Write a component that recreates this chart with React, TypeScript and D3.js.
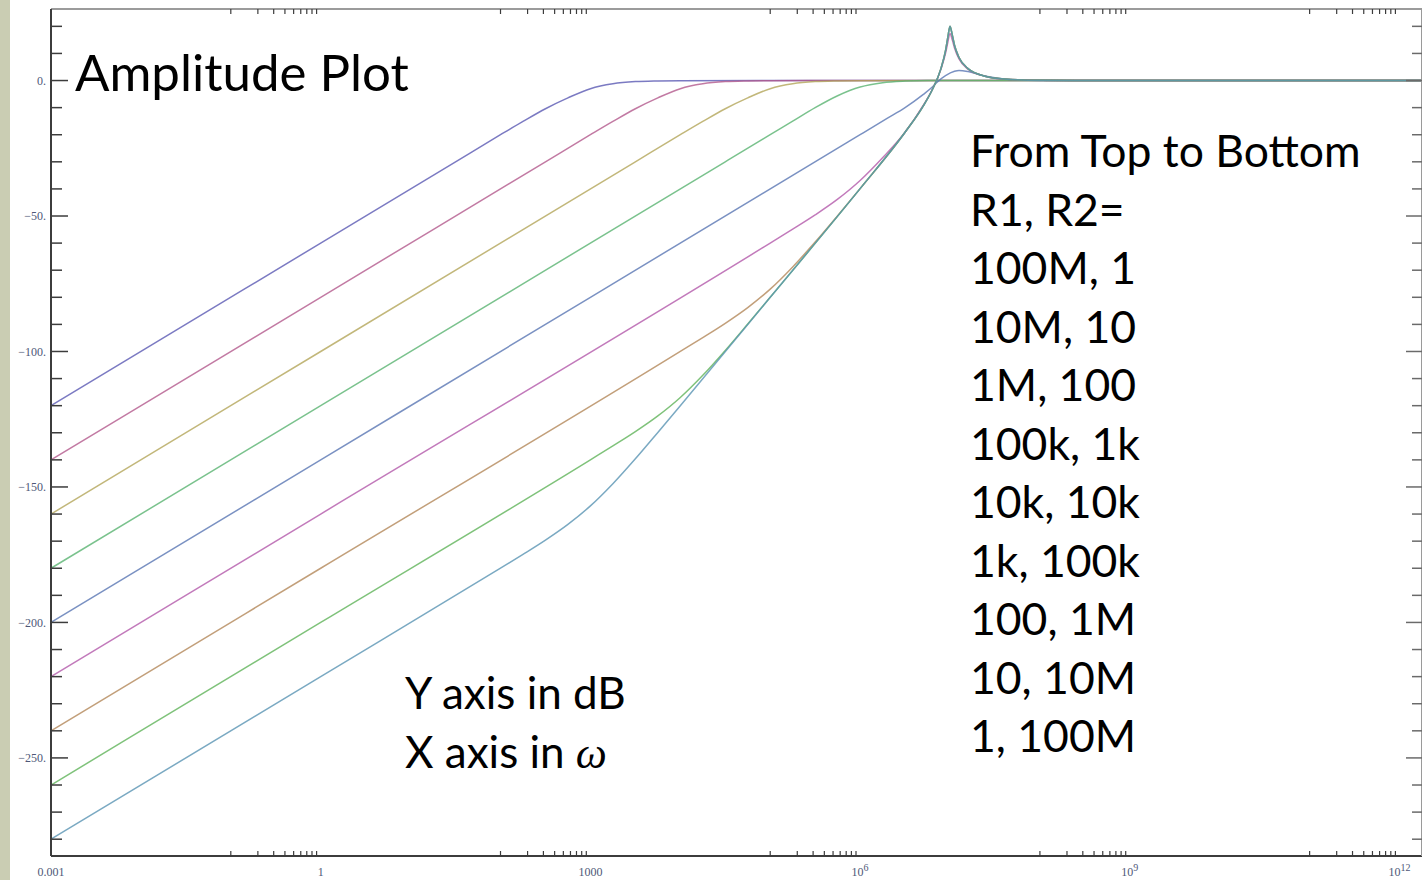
import React from 'react';
import * as d3 from 'd3';

type Pt = [number, number]; // [log10(omega), dB]

// ---- data (x = log10 ω, y = dB) ----
const resonanceTail: Pt[] = [
  [6.5, -19.1], [6.7, -9.5], [6.8, -3.6], [6.9, 4.5], [6.95, 11], [6.975, 15.8], [7, 20],
  [7.025, 16.8], [7.05, 13], [7.1, 8.5], [7.2, 4.4], [7.4, 1.5], [7.6, 0.56], [8, 0.1], [9, 0], [12.3, 0],
];

const curve1: Pt[] = [[-3, -120], [0, -60], [1.5, -30], [2, -20], [2.25, -15.1], [2.5, -10.4], [2.75, -6.4], [3, -3], [3.25, -1.2], [3.5, -0.4], [3.75, -0.14], [4, -0.05], [5, 0], [12.3, 0]];
const curve2: Pt[] = [[-3, -140], [0, -80], [2.5, -30], [3, -20], [3.25, -15.1], [3.5, -10.4], [3.75, -6.4], [4, -3], [4.25, -1.2], [4.5, -0.4], [4.75, -0.14], [5, -0.05], [6, 0], [12.3, 0]];
const curve3: Pt[] = [[-3, -160], [0, -100], [3.5, -30], [4, -20], [4.25, -15.1], [4.5, -10.4], [4.75, -6.4], [5, -3], [5.25, -1.2], [5.5, -0.4], [5.75, -0.14], [6, -0.05], [7, 0], [12.3, 0]];
const curve4: Pt[] = [[-3, -180], [0, -120], [4.5, -30], [5, -20], [5.25, -15], [5.5, -10], [5.75, -5.6], [6, -2.4], [6.25, -0.8], [6.5, -0.2], [6.75, 0], [7, 0], [12.3, 0]];
const curve5: Pt[] = [[-3, -200], [0, -140], [3, -80], [6, -20], [6.3, -14], [6.5, -10], [6.7, -5.2], [6.8, -2.5], [6.86, -0.5], [6.95, 1.8], [7.05, 3.4], [7.1, 3.7], [7.2, 3.3], [7.35, 2.0], [7.5, 1.0], [7.7, 0.3], [8, 0.05], [9, 0], [12.3, 0]];
const curve6: Pt[] = [[-3, -220], [0, -160], [5, -60], [5.25, -54.87], [5.5, -49.6], [5.75, -43.8], [6, -36.9], [6.25, -28.5], [6.5, -19.1], [6.7, -9.3], [6.8, -3.5], [6.9, 4.3], [6.95, 10], [6.975, 14], [7, 17.4], [7.025, 15], [7.05, 12], [7.1, 8], [7.2, 4.2], [7.4, 1.5], [7.6, 0.5], [8, 0.1], [9, 0], [12.3, 0]];
const curve7: Pt[] = [[-3, -240], [0, -180], [4, -100], [4.25, -94.87], [4.5, -89.6], [4.75, -83.8], [5, -77], [5.25, -68.8], [5.5, -59.6], [5.75, -49.86], [6, -39.9], ...resonanceTail];
const curve8: Pt[] = [[-3, -260], [0, -200], [3, -140], [3.25, -134.87], [3.5, -129.6], [3.75, -123.8], [4, -117], [4.25, -108.8], [4.5, -99.6], [4.75, -89.86], [5, -80], [6, -39.9], ...resonanceTail];
const curve9: Pt[] = [[-3, -280], [0, -220], [2, -179.96], [2.25, -174.87], [2.5, -169.6], [2.75, -163.8], [3, -157], [3.25, -148.8], [3.5, -139.6], [3.75, -129.86], [4, -120], [5, -80], [6, -39.9], ...resonanceTail];

const curves: Pt[][] = [curve1, curve2, curve3, curve4, curve5, curve6, curve7, curve8, curve9];
const curveColors = ['#5A59B3', '#B3598C', '#B3A559', '#59B371', '#5975B3', '#B359AA', '#B38759', '#5FB359', '#5994B3'];

const yMajorTicks = [0, -50, -100, -150, -200, -250];
const yMajorLabels = ['0.', '\u221250.', '\u2212100.', '\u2212150.', '\u2212200.', '\u2212250.'];
const xMajorExps = [-3, 0, 3, 6, 9, 12];
const xMajorBase = ['0.001', '1', '1000', '10', '10', '10'];
const xMajorSup = ['', '', '', '6', '9', '12'];

const legendLines = ['From Top to Bottom', 'R1, R2=', '100M, 1', '10M, 10', '1M, 100', '100k, 1k', '10k, 10k', '1k, 100k', '100, 1M', '10, 10M', '1, 100M'];

const L = 51, R = 1422, T = 9, B = 856;
const W_ = 1422;
const H_ = 880;

export default function App() {
  const x = d3.scaleLog().domain([1e-3, Math.pow(10, 12.25)]).range([L, R]);
  const y = d3.scaleLinear().domain([26.4, -286.2]).range([T, B]);
  const line = d3.line<Pt>()
    .x(d => x(Math.pow(10, d[0])))
    .y(d => y(d[1]))
    .curve(d3.curveMonotoneX);

  const yMinor = d3.range(20, -290, -10).filter(v => v % 50 !== 0);
  const xMinor: number[] = [];
  xMajorExps.slice(1).forEach(e => {
    d3.range(1, 10).forEach(m => xMinor.push(m * Math.pow(10, e - 1)));
  });

  const tickColor = '#3c3c3c';
  const labelColor = '#4e5878';
  const sans = 'Lato, "Open Sans", sans-serif';

  return (
    <svg width={W_} height={H_} style={{ position: 'absolute', left: 0, top: 0, background: '#fff' }}>
      <rect x={0} y={0} width={W_} height={H_} fill="#fff" />
      <rect x={0} y={0} width={10} height={H_} fill="#CACDB3" />
      <defs>
        <clipPath id="plotClip">
          <rect x={L} y={T} width={R - L} height={B - T} />
        </clipPath>
      </defs>

      {/* curves */}
      <g clipPath="url(#plotClip)">
        {curves.map((c, i) => (
          <path key={i} d={line(c) || ''} fill="none" stroke={curveColors[i]} strokeWidth={1.5} strokeOpacity={0.8} />
        ))}
      </g>

      {/* frame */}
      <line x1={L} y1={T} x2={R} y2={T} stroke="#7a7a7a" strokeWidth={1.5} />
      <line x1={L} y1={B} x2={R} y2={B} stroke={tickColor} strokeWidth={2} />
      <line x1={L} y1={T} x2={L} y2={B} stroke={tickColor} strokeWidth={2} />
      <line x1={R - 0.5} y1={T} x2={R - 0.5} y2={B} stroke="#9a9a9a" strokeWidth={1} />

      {/* y ticks left & right */}
      {yMinor.map(v => (
        <g key={'ym' + v}>
          <line x1={L} x2={L + 11} y1={y(v)} y2={y(v)} stroke={tickColor} strokeWidth={1.5} />
          <line x1={R - 10} x2={R} y1={y(v)} y2={y(v)} stroke="#6a6a6a" strokeWidth={1.5} />
        </g>
      ))}
      {yMajorTicks.map((v, i) => (
        <g key={'yM' + v}>
          <line x1={L} x2={L + 17} y1={y(v)} y2={y(v)} stroke={tickColor} strokeWidth={1.5} />
          <line x1={R - 16} x2={R} y1={y(v)} y2={y(v)} stroke="#6a6a6a" strokeWidth={1.5} />
          <text x={46} y={y(v)} dy="0.35em" textAnchor="end" fontFamily='"Liberation Serif", serif' fontSize={12} fill={labelColor}>{yMajorLabels[i]}</text>
        </g>
      ))}

      {/* x ticks top & bottom */}
      {xMinor.map((v, i) => (
        <g key={'xm' + i}>
          <line x1={x(v)} x2={x(v)} y1={B} y2={B - 5} stroke={tickColor} strokeWidth={1.2} />
          <line x1={x(v)} x2={x(v)} y1={T} y2={T + 5} stroke={tickColor} strokeWidth={1.2} />
        </g>
      ))}
      {xMajorExps.map((e, i) => (
        <text key={'xl' + e} x={x(Math.pow(10, e))} y={876} textAnchor="middle" fontFamily='"Liberation Serif", serif' fontSize={12} fill={labelColor}>
          {xMajorBase[i]}
          {xMajorSup[i] && <tspan dy={-5} fontSize={10}>{xMajorSup[i]}</tspan>}
        </text>
      ))}

      {/* annotations */}
      <text x={75} y={91} fontFamily={sans} fontSize={51} fill="#000">Amplitude Plot</text>
      {legendLines.map((t, i) => (
        <text key={'lg' + i} x={970} y={167 + i * 58.5} fontFamily={sans} fontSize={44.5} fill="#000">{t}</text>
      ))}
      <text x={405} y={709} fontFamily={sans} fontSize={44} fill="#000">Y axis in dB</text>
      <text x={405} y={768} fontFamily={sans} fontSize={44} fill="#000">
        X axis in <tspan fontFamily='"Liberation Serif", serif' fontStyle="italic">ω</tspan>
      </text>
    </svg>
  );
}
